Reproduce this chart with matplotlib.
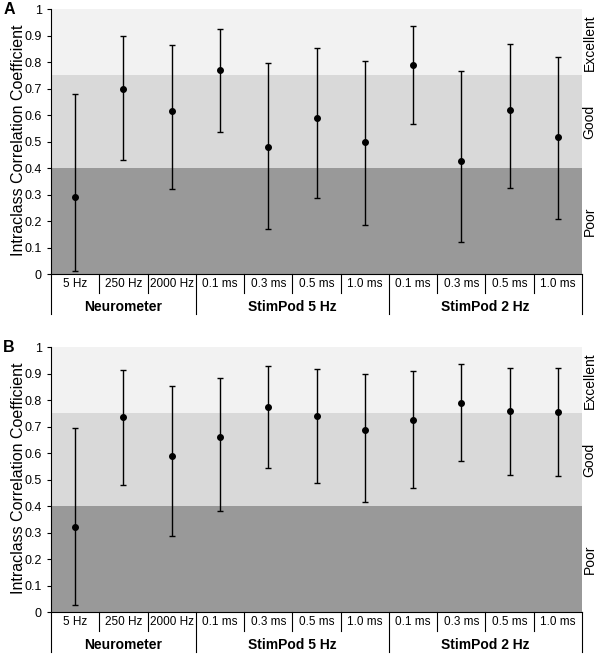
import matplotlib.pyplot as plt
import numpy as np

plt.rcParams['font.family'] = ['Liberation Sans', 'DejaVu Sans']

cats = ['5 Hz', '250 Hz', '2000 Hz', '0.1 ms', '0.3 ms', '0.5 ms', '1.0 ms',
        '0.1 ms', '0.3 ms', '0.5 ms', '1.0 ms']
groups = ['Neurometer', 'StimPod 5 Hz', 'StimPod 2 Hz']
group_sizes = [3, 4, 4]

# panel A
icc_a = [0.29, 0.70, 0.615, 0.77, 0.48, 0.59, 0.497, 0.79, 0.425, 0.619, 0.517]
lo_a = [0.01, 0.43, 0.32, 0.535, 0.17, 0.287, 0.186, 0.567, 0.12, 0.325, 0.208]
hi_a = [0.68, 0.90, 0.865, 0.925, 0.795, 0.852, 0.805, 0.936, 0.767, 0.867, 0.818]

# panel B
icc_b = [0.32, 0.735, 0.59, 0.663, 0.776, 0.741, 0.689, 0.727, 0.791, 0.761, 0.757]
lo_b = [0.027, 0.48, 0.287, 0.38, 0.543, 0.488, 0.414, 0.467, 0.569, 0.518, 0.513]
hi_b = [0.697, 0.915, 0.853, 0.885, 0.93, 0.917, 0.898, 0.909, 0.937, 0.923, 0.923]

bands = [(0, 0.4, '#999999', 'Poor'), (0.4, 0.75, '#d9d9d9', 'Good'),
         (0.75, 1.0, '#f2f2f2', 'Excellent')]


def draw_panel(ax, icc, lo, hi, letter):
    x = np.arange(len(cats))
    for b0, b1, c, name in bands:
        ax.axhspan(b0, b1, color=c, lw=0, zorder=0)
        ax.text(1.014, (b0 + b1) / 2, name, rotation=90, transform=ax.transAxes,
                ha='center', va='center', fontsize=10)
    icc = np.array(icc)
    yerr = [icc - np.array(lo), np.array(hi) - icc]
    ax.errorbar(x, icc, yerr=yerr, fmt='o', color='black', ms=4,
                elinewidth=1, capsize=2.5, capthick=1, zorder=3)
    ax.set_xlim(-0.5, len(cats) - 0.5)
    ax.set_ylim(0, 1)
    ax.set_yticks(np.arange(0, 1.01, 0.1))
    ax.set_yticklabels(['0'] + ['%.1f' % v for v in np.arange(0.1, 0.95, 0.1)] + ['1'])
    ax.tick_params(axis='y', labelsize=9, length=3, direction='out')
    ax.set_xticks([])
    for s in ['top', 'right']:
        ax.spines[s].set_visible(False)
    ax.set_ylabel('Intraclass Correlation Coefficient', fontsize=11.5)
    ax.yaxis.set_label_coords(-0.048, 0.505)
    tr = ax.get_xaxis_transform()
    box_h = 0.072
    grp_h = 0.152
    for i, c in enumerate(cats):
        ax.text(i, -box_h / 2, c, transform=tr, ha='center', va='center', fontsize=8.5)
    # separators
    bounds = np.cumsum([0] + group_sizes) - 0.5
    for i in range(len(cats) + 1):
        xe = i - 0.5
        h = grp_h if xe in bounds else box_h
        ax.plot([xe, xe], [0, -h], transform=tr, color='black', lw=0.8, clip_on=False)
    for g, a, b in zip(groups, bounds[:-1], bounds[1:]):
        ax.text((a + b) / 2, -0.125, g, transform=tr, ha='center', va='center',
                fontsize=10, fontweight='bold')
    ax.text(-0.09, 1.0, letter, transform=ax.transAxes, fontsize=11.5,
            fontweight='bold', ha='left', va='center')


fig = plt.figure(figsize=(6, 6.54), dpi=100)
ax_a = fig.add_axes([0.085, 0.581, 0.885, 0.405])
ax_b = fig.add_axes([0.085, 0.064, 0.885, 0.405])
draw_panel(ax_a, icc_a, lo_a, hi_a, 'A')
draw_panel(ax_b, icc_b, lo_b, hi_b, 'B')
fig.savefig('out.png', dpi=100)
